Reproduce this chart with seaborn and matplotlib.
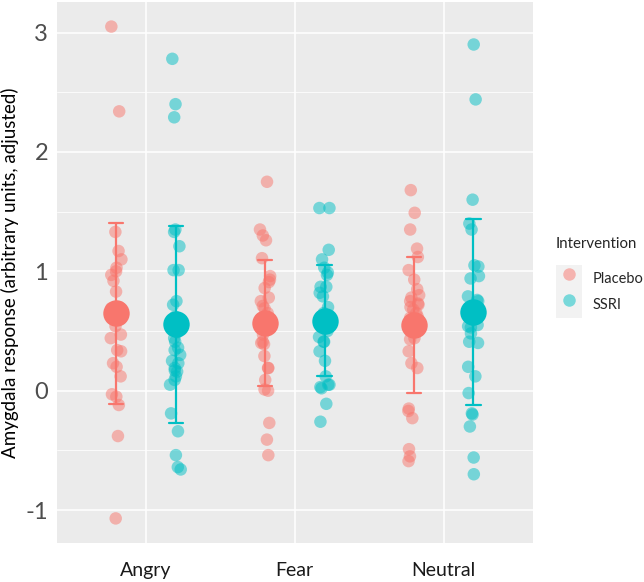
import numpy as np
import pandas as pd
import matplotlib
matplotlib.use('Agg')
import matplotlib.pyplot as plt
from matplotlib.lines import Line2D
from matplotlib.patches import Patch
from matplotlib.legend_handler import HandlerTuple
import seaborn as sns

# 数据
emotions = ['Angry', 'Fear', 'Neutral']
groups = ['Placebo', 'SSRI']

angry_placebo = [3.05, 2.34, 1.33, 1.17, 1.10, 1.03, 1.00, 0.97, 0.92, 0.83, 0.70, 0.70,
                 0.70, 0.69, 0.65, 0.60, 0.60, 0.54, 0.47, 0.44, 0.34, 0.33, 0.23, 0.20,
                 0.12, -0.03, -0.05, -0.12, -0.38, -1.07]
angry_ssri = [2.78, 2.40, 2.29, 1.35, 1.33, 1.21, 1.01, 1.01, 0.75, 0.72, 0.62, 0.55,
              0.49, 0.44, 0.41, 0.36, 0.34, 0.30, 0.25, 0.23, 0.19, 0.17, 0.16, 0.12,
              0.09, 0.05, -0.19, -0.34, -0.54, -0.64, -0.66]
fear_placebo = [1.75, 1.35, 1.30, 1.26, 1.11, 0.96, 0.93, 0.91, 0.86, 0.78, 0.75, 0.71,
                0.69, 0.65, 0.62, 0.60, 0.55, 0.47, 0.41, 0.40, 0.39, 0.29, 0.19, 0.19,
                0.09, 0.01, 0.00, -0.27, -0.41, -0.54]
fear_ssri = [1.53, 1.53, 1.18, 1.10, 1.03, 0.99, 0.97, 0.87, 0.87, 0.82, 0.79, 0.70,
             0.65, 0.62, 0.58, 0.55, 0.50, 0.45, 0.41, 0.41, 0.33, 0.25, 0.12, 0.05,
             0.05, 0.03, 0.02, -0.11, -0.26]
neutral_placebo = [1.68, 1.49, 1.35, 1.19, 1.12, 1.01, 0.93, 0.85, 0.80, 0.78, 0.75, 0.73,
                   0.72, 0.70, 0.68, 0.65, 0.62, 0.61, 0.55, 0.50, 0.44, 0.43, 0.33, 0.23,
                   0.19, -0.15, -0.17, -0.23, -0.49, -0.55, -0.59]
neutral_ssri = [2.90, 2.44, 1.60, 1.40, 1.35, 1.05, 1.04, 0.96, 0.94, 0.79, 0.76, 0.75,
                0.70, 0.65, 0.62, 0.60, 0.55, 0.54, 0.53, 0.48, 0.41, 0.40, 0.20, 0.12,
                -0.02, -0.19, -0.20, -0.30, -0.56, -0.70]

series = {
    ('Angry', 'Placebo'): angry_placebo, ('Angry', 'SSRI'): angry_ssri,
    ('Fear', 'Placebo'): fear_placebo, ('Fear', 'SSRI'): fear_ssri,
    ('Neutral', 'Placebo'): neutral_placebo, ('Neutral', 'SSRI'): neutral_ssri,
}
rows = []
for (emo, grp), vals in series.items():
    for v in vals:
        rows.append({'emotion': emo, 'Intervention': grp, 'response': v})
df = pd.DataFrame(rows)

palette = {'Placebo': '#F8766D', 'SSRI': '#00BFC4'}

sns.set_theme(style='darkgrid')
plt.rcParams['font.family'] = ['Lato', 'DejaVu Sans']

fig = plt.figure(figsize=(6.44, 5.82), dpi=100)
ax = fig.add_axes([56.5 / 644, 1 - 543 / 582, (533 - 56.5) / 644, (543 - 2) / 582])
ax.set_facecolor('#EBEBEB')

np.random.seed(7)
sns.stripplot(data=df, x='emotion', y='response', hue='Intervention', order=emotions,
              hue_order=groups, palette=palette, dodge=True, jitter=0.075, size=9,
              alpha=0.5, linewidth=0, legend=False, ax=ax, zorder=2)
sns.pointplot(data=df, x='emotion', y='response', hue='Intervention', order=emotions,
              hue_order=groups, palette=palette, dodge=0.4, errorbar='sd', capsize=0.095,
              linestyle='none', markers='o', markersize=17,
              err_kws={'linewidth': 1.6}, legend=False, ax=ax)

# ggplot 风格的坐标范围
lo, hi = df['response'].min(), df['response'].max()
pad = (hi - lo) * 0.05
ax.set_ylim(lo - pad, hi + pad)
ax.set_xlim(-0.6, 2.6)

ax.set_yticks([-1, 0, 1, 2, 3])
ax.set_yticks([-0.5, 0.5, 1.5, 2.5], minor=True)
ax.set_yticklabels(['-1', '0', '1', '2', '3'])
ax.grid(which='major', color='white', linewidth=1.1)
ax.grid(which='minor', axis='y', color='white', linewidth=0.55)
ax.set_axisbelow(True)
for s in ax.spines.values():
    s.set_visible(False)

ax.tick_params(axis='both', which='major', length=3, width=0.8, color='#333333', pad=3)
ax.tick_params(axis='y', which='minor', length=0)
ax.tick_params(axis='x', labelsize=14, labelcolor='#1A1A1A', pad=11)
ax.tick_params(axis='y', labelsize=17, labelcolor='#4D4D4D')
ax.set_xlabel('')
ax.set_ylabel('Amygdala response (arbitrary units, adjusted)', fontsize=13.5,
              color='black', labelpad=5)

# 图例
handles = []
for g in groups:
    box = Patch(facecolor='#F2F2F2', edgecolor='none')
    dot = Line2D([], [], marker='o', linestyle='none', markersize=9,
                 markerfacecolor=palette[g], markeredgewidth=0, alpha=0.5)
    handles.append((box, dot))
leg = fig.legend(handles, groups, title='Intervention', loc='upper left',
                 bbox_to_anchor=(556 / 644, 1 - 237 / 582), frameon=False,
                 fontsize=10.5, title_fontsize=10.8, handlelength=1.75, handleheight=2.4,
                 labelspacing=0.0, handletextpad=0.75, borderaxespad=0, borderpad=0,
                 handler_map={tuple: HandlerTuple(ndivide=1, pad=0)})
leg._legend_box.align = 'left'
leg._legend_box.sep = 10

fig.savefig('out.png', dpi=100)
